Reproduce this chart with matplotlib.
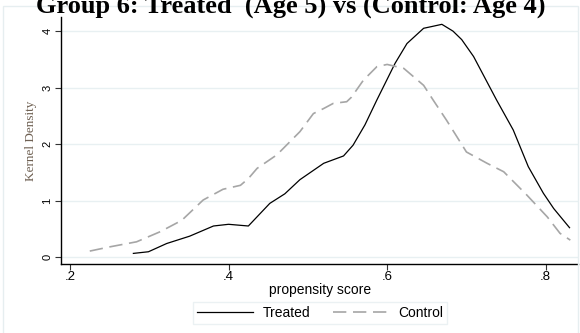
import numpy as np
import matplotlib.pyplot as plt
from matplotlib.patches import Rectangle

# kernel density of the propensity score, read at a handful of points
treated_x = [0.280, 0.299, 0.322, 0.351, 0.381, 0.400, 0.425, 0.452, 0.471, 0.490,
             0.520, 0.545, 0.557, 0.572, 0.587, 0.610, 0.625, 0.646, 0.656, 0.669,
             0.683, 0.694, 0.709, 0.738, 0.759, 0.778, 0.797, 0.810, 0.830]
treated_y = [0.065, 0.094, 0.24, 0.37, 0.55, 0.58, 0.55, 0.95, 1.12, 1.37,
             1.66, 1.79, 1.98, 2.34, 2.78, 3.43, 3.78, 4.05, 4.08, 4.12,
             4.00, 3.85, 3.55, 2.78, 2.25, 1.60, 1.13, 0.86, 0.52]

control_x = [0.225, 0.250, 0.284, 0.314, 0.341, 0.368, 0.393, 0.415, 0.425, 0.436,
             0.461, 0.490, 0.507, 0.520, 0.532, 0.549, 0.555, 0.570, 0.587, 0.600,
             0.621, 0.646, 0.658, 0.675, 0.700, 0.726, 0.747, 0.776, 0.802, 0.818, 0.831]
control_y = [0.106, 0.18, 0.27, 0.45, 0.65, 1.01, 1.20, 1.27, 1.39, 1.57,
             1.81, 2.22, 2.54, 2.63, 2.72, 2.75, 2.83, 3.13, 3.37, 3.41,
             3.34, 3.04, 2.78, 2.42, 1.86, 1.66, 1.51, 1.10, 0.71, 0.42, 0.30]

xticks = [0.2, 0.4, 0.6, 0.8]
xtick_labels = [".2", ".4", ".6", ".8"]
yticks = [0, 1, 2, 3, 4]

plt.rcParams['font.family'] = ['Liberation Sans', 'DejaVu Sans']

fig = plt.figure(figsize=(5.8, 3.33), dpi=100)
fig.patch.set_facecolor('white')

# thin frame round the graph region
fig.patches.append(Rectangle((3 / 580, -0.01), 575 / 580, 1 - 6 / 333 + 0.01,
                             transform=fig.transFigure, fill=False,
                             edgecolor='#e6eef0', linewidth=1))

ax = fig.add_axes([0.105, 0.207, 0.892, 0.742])
ax.plot(treated_x, treated_y, color='black', linewidth=0.9, label='Treated')
ax.plot(control_x, control_y, color='#a6a6a6', linewidth=1.2,
        dashes=(8, 4), label='Control')

ax.set_xlim(0.1886, 0.841)
ax.set_ylim(-0.124, 4.25)
ax.set_xticks(xticks)
ax.set_xticklabels(xtick_labels)
ax.set_yticks(yticks)
ax.set_yticklabels([str(v) for v in yticks], rotation=90, va='center')
ax.tick_params(length=4, width=0.8, color='#333333', pad=2)
ax.tick_params(axis='x', labelsize=9.5, pad=1)
ax.tick_params(axis='y', labelsize=8)

ax.grid(axis='y', color='#e8f0f2', linewidth=1)
ax.set_axisbelow(True)
for side in ['top', 'right']:
    ax.spines[side].set_visible(False)
ax.spines['left'].set_linewidth(1.0)
ax.spines['bottom'].set_linewidth(1.0)

ax.set_xlabel("propensity score", fontsize=10, labelpad=0)
ax.set_ylabel("Kernel Density", fontsize=9.5, family='Liberation Serif',
              color='#6e6052', labelpad=4)

fig.text(0.502, 1 - 12.5 / 333, "Group 6: Treated  (Age 5) vs (Control: Age 4)",
         ha='center', va='baseline', fontsize=19, fontweight='bold',
         family='Liberation Serif')

leg = fig.legend(loc='center', bbox_to_anchor=(0.552, 0.0595), ncol=2,
                 fontsize=10, handlelength=4.0, columnspacing=1.65,
                 handletextpad=0.7, frameon=True, fancybox=False,
                 borderpad=0.3)
leg.get_frame().set_edgecolor('#e6eef0')
leg.get_frame().set_linewidth(1)

fig.savefig("out.png", dpi=100)
